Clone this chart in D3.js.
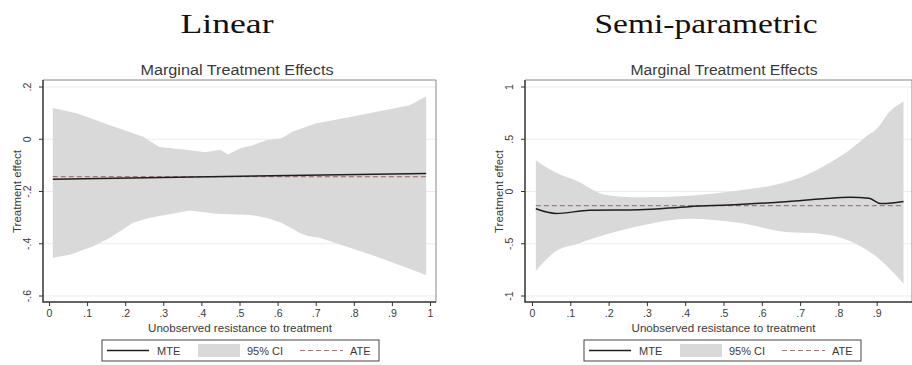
<!DOCTYPE html>
<html><head><meta charset="utf-8">
<script src="https://cdn.jsdelivr.net/npm/d3@7"></script>
<style>body{margin:0;background:#fff}svg{display:block}</style>
</head><body>
<svg id="c" width="912" height="365"></svg>
<script>
// ---- data ----
const panelTitles = ["Linear", "Semi-parametric"];
const chartTitle = "Marginal Treatment Effects";
const xLabel = "Unobserved resistance to treatment";
const yLabel = "Treatment effect";
const xTicks = [0, .1, .2, .3, .4, .5, .6, .7, .8, .9, 1];
const xTickLabels = ["0", ".1", ".2", ".3", ".4", ".5", ".6", ".7", ".8", ".9", "1"];
const legendLabels = ["MTE", "95% CI", "ATE"];

// Linear panel
const linYTicks = [.2, 0, -.2, -.4, -.6];
const linYTickLabels = [".2", "0", "-.2", "-.4", "-.6"];
const linUpperU = [0.01, 0.073, 0.16, 0.247, 0.29, 0.36, 0.41, 0.45, 0.47, 0.50, 0.535, 0.57, 0.61, 0.64, 0.70, 0.79, 0.877, 0.947, 0.99];
const linUpperV = [0.12, 0.10, 0.054, 0.01, -0.03, -0.04, -0.05, -0.04, -0.058, -0.035, -0.023, -0.004, 0.004, 0.03, 0.06, 0.085, 0.11, 0.13, 0.165];
const linLowerU = [0.01, 0.055, 0.116, 0.16, 0.22, 0.265, 0.37, 0.44, 0.53, 0.57, 0.61, 0.66, 0.68, 0.71, 0.79, 0.877, 0.99];
const linLowerV = [-0.454, -0.442, -0.41, -0.377, -0.32, -0.30, -0.273, -0.285, -0.29, -0.30, -0.32, -0.36, -0.37, -0.377, -0.415, -0.458, -0.52];
const linMteU = [0.01, 0.99];
const linMteV = [-0.153, -0.131];
const linAte = -0.143;

// Semi-parametric panel
const semYTicks = [1, .5, 0, -.5, -1];
const semYTickLabels = ["1", ".5", "0", "-.5", "-1"];
const semUpperU = [0.01, 0.063, 0.115, 0.19, 0.28, 0.41, 0.54, 0.63, 0.715, 0.775, 0.83, 0.87, 0.905, 0.93, 0.97];
const semUpperV = [0.30, 0.18, 0.105, -0.03, -0.055, -0.04, 0.01, 0.06, 0.155, 0.27, 0.40, 0.52, 0.62, 0.75, 0.86];
const semLowerU = [0.01, 0.063, 0.12, 0.167, 0.28, 0.41, 0.54, 0.67, 0.74, 0.845, 0.905, 0.97];
const semLowerV = [-0.76, -0.57, -0.50, -0.44, -0.33, -0.26, -0.30, -0.39, -0.40, -0.50, -0.64, -0.88];
const semMteU = [0.01, 0.063, 0.15, 0.28, 0.41, 0.54, 0.67, 0.76, 0.83, 0.88, 0.91, 0.94, 0.97];
const semMteV = [-0.165, -0.21, -0.18, -0.175, -0.145, -0.125, -0.095, -0.07, -0.055, -0.065, -0.115, -0.11, -0.095];
const semAte = -0.135;

// ---- drawing ----
const svg = d3.select("#c");
const bandCol = "#d9d9d9", mteCol = "#1e1e1e", ateCol = "#a87878", txtCol = "#3a3a3a";
const zip = (u, v) => u.map((d, i) => [d, v[i]]);
const sans = "'Liberation Sans', Arial, sans-serif";

function panel(o) {
  const g = svg.append("g");
  const x = d3.scaleLinear().domain([0, 1]).range(o.xr);
  const y = d3.scaleLinear().domain(o.yd).range([296, 87]);
  const frameL = o.frame[0], frameR = o.frame[1], top = 80, bot = 302;

  g.append("text").attr("x", o.titleX).attr("y", 33).attr("text-anchor", "middle")
    .attr("font-family", "'Liberation Serif', 'DejaVu Serif', serif").attr("font-size", 27)
    .attr("textLength", o.titleW).attr("lengthAdjust", "spacingAndGlyphs").attr("fill", "#111").text(o.title);
  g.append("text").attr("x", o.ctX).attr("y", 75).attr("text-anchor", "middle")
    .attr("font-family", sans).attr("font-size", 15.5)
    .attr("textLength", o.ctW).attr("lengthAdjust", "spacingAndGlyphs").attr("fill", txtCol).text(chartTitle);

  // grid
  g.selectAll(".grid").data(o.yTicks).join("line")
    .attr("x1", frameL + 1).attr("x2", frameR).attr("y1", d => y(d)).attr("y2", d => y(d))
    .attr("stroke", "#ececec").attr("stroke-width", 1);

  // band
  const area = d3.area().x(d => x(d[0])).y0(d => y(d[1])).y1(d => y(d[2])).curve(o.bandCurve);
  // upper and lower share sampling: build from upper and lower arrays separately
  const upPath = d3.line().x(d => x(d[0])).y(d => y(d[1])).curve(o.bandCurve)(zip(o.upU, o.upV));
  const loRev = zip(o.loU, o.loV).reverse();
  const loPath = d3.line().x(d => x(d[0])).y(d => y(d[1])).curve(o.bandCurve)(loRev);
  g.append("path").attr("d", upPath + "L" + loPath.slice(1) + "Z").attr("fill", bandCol);

  // ATE
  g.append("line").attr("x1", x(o.mteU[0])).attr("x2", x(o.mteU[o.mteU.length - 1]))
    .attr("y1", y(o.ate)).attr("y2", y(o.ate))
    .attr("stroke", ateCol).attr("stroke-width", 1.3).attr("stroke-dasharray", "5,3");
  // MTE
  g.append("path").datum(zip(o.mteU, o.mteV))
    .attr("d", d3.line().x(d => x(d[0])).y(d => y(d[1])).curve(d3.curveMonotoneX))
    .attr("fill", "none").attr("stroke", mteCol).attr("stroke-width", 1.5);

  // frame
  g.append("path").attr("d", `M${frameL},${top}H${frameR}V${bot}`).attr("fill", "none")
    .attr("stroke", "#888").attr("stroke-width", 1);
  g.append("path").attr("d", `M${frameL},${top}V${bot}H${frameR}`).attr("fill", "none")
    .attr("stroke", "#333").attr("stroke-width", 1.5);

  // y axis
  const ya = g.append("g").attr("transform", `translate(${frameL},0)`)
    .call(d3.axisLeft(y).tickValues(o.yTicks).tickFormat((d, i) => o.yTickLabels[i]).tickSize(4).tickSizeOuter(0));
  ya.select(".domain").remove();
  ya.selectAll(".tick").attr("transform", null);
  ya.selectAll(".tick line").attr("stroke", "#333").attr("y1", d => y(d)).attr("y2", d => y(d)).attr("x2", -4);
  ya.selectAll(".tick text").attr("font-family", sans).attr("font-size", 10.5).attr("fill", txtCol)
    .attr("text-anchor", "middle").attr("x", -12).attr("y", d => y(d)).attr("dy", 0)
    .attr("transform", d => `rotate(-90,-12,${y(d)})`);

  // x axis
  const xa = g.append("g").attr("transform", `translate(0,${bot})`)
    .call(d3.axisBottom(x).tickValues(o.xTicksShown).tickFormat(d => xTickLabels[xTicks.indexOf(d)]).tickSize(4).tickSizeOuter(0));
  xa.select(".domain").remove();
  xa.selectAll("line").attr("stroke", "#333");
  xa.selectAll("text").attr("font-family", sans).attr("font-size", 10.5).attr("fill", txtCol).attr("y", 8);

  g.append("text").attr("x", o.xlX).attr("y", 332).attr("text-anchor", "middle")
    .attr("font-family", sans).attr("font-size", 11.5)
    .attr("textLength", 184).attr("lengthAdjust", "spacingAndGlyphs").attr("fill", txtCol).text(xLabel);
  g.append("text").attr("transform", `translate(${o.ylX},191.5) rotate(-90)`).attr("text-anchor", "middle")
    .attr("font-family", sans).attr("font-size", 11)
    .attr("textLength", 83).attr("lengthAdjust", "spacingAndGlyphs").attr("fill", txtCol).text(yLabel);

  // legend
  const lg = g.append("g").attr("transform", `translate(${o.legX},340)`);
  lg.append("rect").attr("x", 0).attr("y", 0).attr("width", 277).attr("height", 21)
    .attr("fill", "#fff").attr("stroke", "#444").attr("stroke-width", 1);
  lg.append("line").attr("x1", 5).attr("x2", 47).attr("y1", 10.5).attr("y2", 10.5).attr("stroke", mteCol).attr("stroke-width", 1.3);
  lg.append("rect").attr("x", 96).attr("y", 4).attr("width", 42).attr("height", 13).attr("fill", bandCol);
  lg.append("line").attr("x1", 198).attr("x2", 241).attr("y1", 10.5).attr("y2", 10.5).attr("stroke", ateCol)
    .attr("stroke-width", 1.2).attr("stroke-dasharray", "5,3");
  const lx = [55, 145, 248];
  lg.selectAll(".lt").data(legendLabels).join("text").attr("x", (d, i) => lx[i]).attr("y", 14.5)
    .attr("font-family", sans).attr("font-size", 11).attr("fill", txtCol).text(d => d);
}

panel({
  title: panelTitles[0], titleX: 227, titleW: 93, ctX: 237, ctW: 193,
  xr: [49, 430], frame: [43, 436], yd: [-0.6, 0.2], yTicks: linYTicks, yTickLabels: linYTickLabels,
  xTicksShown: xTicks, bandCurve: d3.curveLinear,
  upU: linUpperU, upV: linUpperV, loU: linLowerU, loV: linLowerV,
  mteU: linMteU, mteV: linMteV, ate: linAte,
  xlX: 240, ylX: 21, legX: 102
});
panel({
  title: panelTitles[1], titleX: 706, titleW: 223, ctX: 724, ctW: 187,
  xr: [532, 915], frame: [525, 912], yd: [-1, 1], yTicks: semYTicks, yTickLabels: semYTickLabels,
  xTicksShown: xTicks.slice(0, 10), bandCurve: d3.curveMonotoneX,
  upU: semUpperU, upV: semUpperV, loU: semLowerU, loV: semLowerV,
  mteU: semMteU, mteV: semMteV, ate: semAte,
  xlX: 723.5, ylX: 503, legX: 584
});
</script>
</body></html>
